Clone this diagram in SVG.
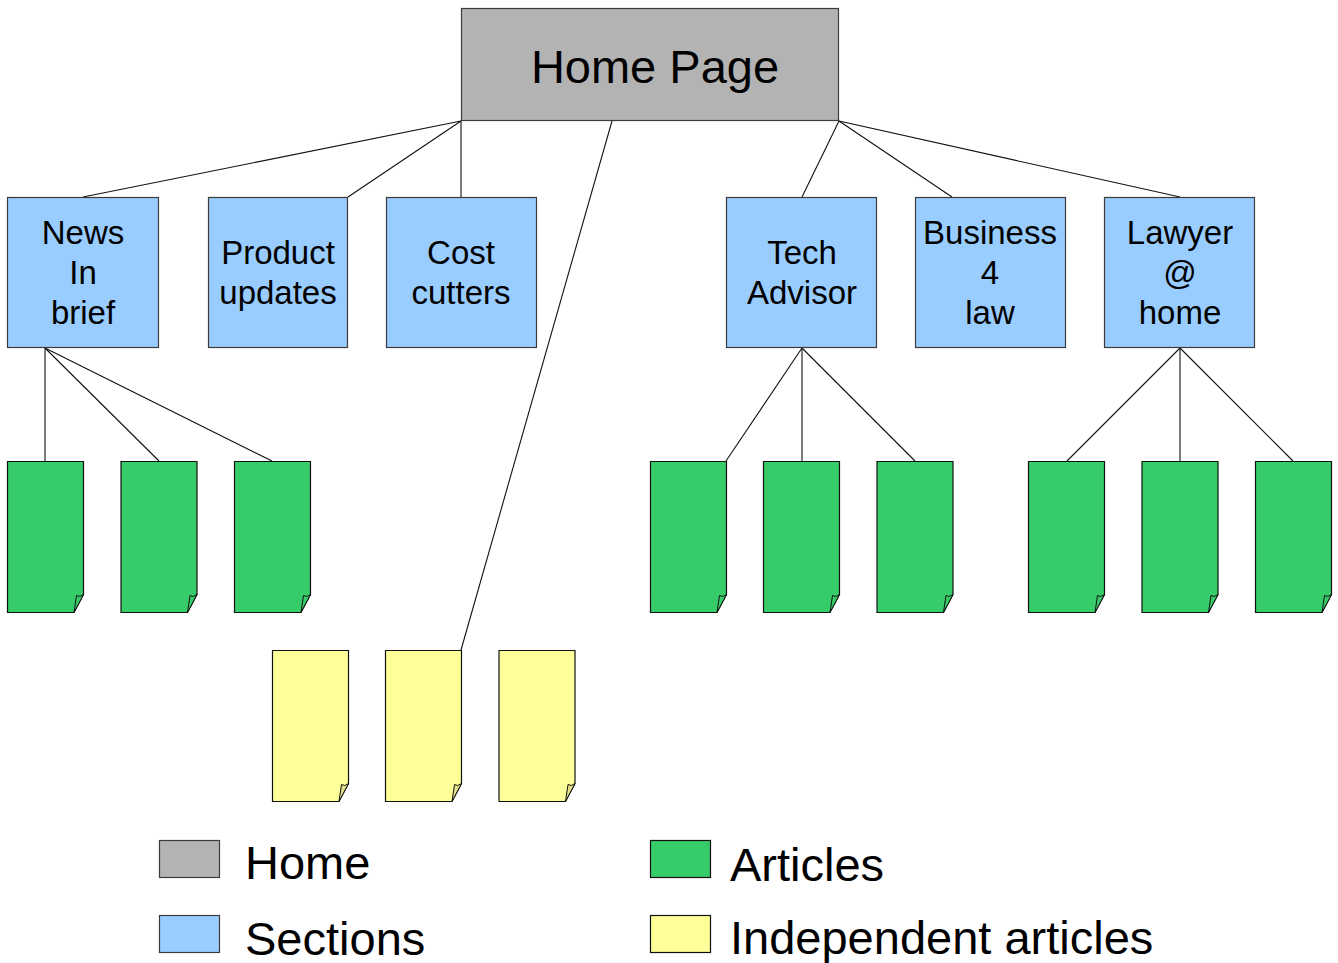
<svg xmlns="http://www.w3.org/2000/svg" width="1338" height="963" viewBox="0 0 1338 963">
<defs>
<style>
text{font-family:"Liberation Sans",Arial,sans-serif;fill:#000;text-anchor:middle}
.home{fill:#b3b3b3;stroke:#3c3c3c;stroke-width:1.2}
.sec{fill:#99ccff;stroke:#3c3c3c;stroke-width:1.2}
.art{fill:#35cc69;stroke:#111;stroke-width:1.2}
.artf{fill:#35cc69;stroke:#111;stroke-width:1}
.ind{fill:#ffff99;stroke:#111;stroke-width:1.2}
.indf{fill:#e6e08a;stroke:#111;stroke-width:1}
.st{font-size:33px}
.lg{font-size:47px;text-anchor:start}
#connectors line{stroke:#111;stroke-width:1.1}
</style>
<path id="page" d="M0,0 H76 V133 L66.5,151 H0 Z"/>
<path id="flap" d="M66.5,151 L69,134 Q72,136.5 76,133 Z"/>
</defs>
<rect width="1338" height="963" fill="#fff"/>

<g id="connectors">
<line x1="461" y1="121" x2="83" y2="197"/>
<line x1="461" y1="121" x2="348" y2="197"/>
<line x1="461" y1="121" x2="461" y2="197"/>
<line x1="612" y1="121" x2="461" y2="650"/>
<line x1="839" y1="121" x2="802" y2="197"/>
<line x1="839" y1="121" x2="952" y2="197"/>
<line x1="839" y1="121" x2="1180" y2="197"/>
<line x1="45" y1="348" x2="45" y2="461"/>
<line x1="45" y1="348" x2="159" y2="461"/>
<line x1="45" y1="348" x2="272" y2="461"/>
<line x1="802" y1="348" x2="726" y2="461"/>
<line x1="802" y1="348" x2="802" y2="461"/>
<line x1="802" y1="348" x2="915" y2="461"/>
<line x1="1180" y1="348" x2="1067" y2="461"/>
<line x1="1180" y1="348" x2="1180" y2="461"/>
<line x1="1180" y1="348" x2="1293" y2="461"/>
</g>

<g id="home-page">
<rect class="home" x="461.5" y="8.5" width="377" height="112"/>
<text x="655" y="83" style="font-size:47px">Home Page</text>
</g>

<g id="news-in-brief">
<rect class="sec" x="7.5" y="197.5" width="151" height="150"/>
<text class="st" x="83" y="244">News</text>
<text class="st" x="83" y="284">In</text>
<text class="st" x="83" y="324">brief</text>
</g>
<g id="product-updates">
<rect class="sec" x="208.5" y="197.5" width="139" height="150"/>
<text class="st" x="278" y="264">Product</text>
<text class="st" x="278" y="304">updates</text>
</g>
<g id="cost-cutters">
<rect class="sec" x="386.5" y="197.5" width="150" height="150"/>
<text class="st" x="461" y="264">Cost</text>
<text class="st" x="461" y="304">cutters</text>
</g>
<g id="tech-advisor">
<rect class="sec" x="726.5" y="197.5" width="150" height="150"/>
<text class="st" x="802" y="264">Tech</text>
<text class="st" x="802" y="304">Advisor</text>
</g>
<g id="business-4-law">
<rect class="sec" x="915.5" y="197.5" width="150" height="150"/>
<text class="st" x="990" y="244">Business</text>
<text class="st" x="990" y="284">4</text>
<text class="st" x="990" y="324">law</text>
</g>
<g id="lawyer-at-home">
<rect class="sec" x="1104.5" y="197.5" width="150" height="150"/>
<text class="st" x="1180" y="244">Lawyer</text>
<text class="st" x="1180" y="284">@</text>
<text class="st" x="1180" y="324">home</text>
</g>

<g id="article-1" transform="translate(7.5,461.5)"><use href="#page" class="art"/><use href="#flap" class="artf"/></g>
<g id="article-2" transform="translate(121,461.5)"><use href="#page" class="art"/><use href="#flap" class="artf"/></g>
<g id="article-3" transform="translate(234.5,461.5)"><use href="#page" class="art"/><use href="#flap" class="artf"/></g>
<g id="article-4" transform="translate(650.5,461.5)"><use href="#page" class="art"/><use href="#flap" class="artf"/></g>
<g id="article-5" transform="translate(763.5,461.5)"><use href="#page" class="art"/><use href="#flap" class="artf"/></g>
<g id="article-6" transform="translate(877,461.5)"><use href="#page" class="art"/><use href="#flap" class="artf"/></g>
<g id="article-7" transform="translate(1028.5,461.5)"><use href="#page" class="art"/><use href="#flap" class="artf"/></g>
<g id="article-8" transform="translate(1142,461.5)"><use href="#page" class="art"/><use href="#flap" class="artf"/></g>
<g id="article-9" transform="translate(1255.5,461.5)"><use href="#page" class="art"/><use href="#flap" class="artf"/></g>

<g id="independent-1" transform="translate(272.5,650.5)"><use href="#page" class="ind"/><use href="#flap" class="indf"/></g>
<g id="independent-2" transform="translate(385.5,650.5)"><use href="#page" class="ind"/><use href="#flap" class="indf"/></g>
<g id="independent-3" transform="translate(499,650.5)"><use href="#page" class="ind"/><use href="#flap" class="indf"/></g>

<g id="legend">
<rect class="home" x="159.5" y="840.5" width="60" height="37"/>
<text class="lg" x="245" y="879">Home</text>
<rect class="sec" x="159.5" y="915.5" width="60" height="37"/>
<text class="lg" x="245" y="955">Sections</text>
<rect class="art" x="650.5" y="840.5" width="60" height="37"/>
<text class="lg" x="730" y="881">Articles</text>
<rect class="ind" x="650.5" y="915.5" width="60" height="37"/>
<text class="lg" x="730" y="954">Independent articles</text>
</g>
</svg>
